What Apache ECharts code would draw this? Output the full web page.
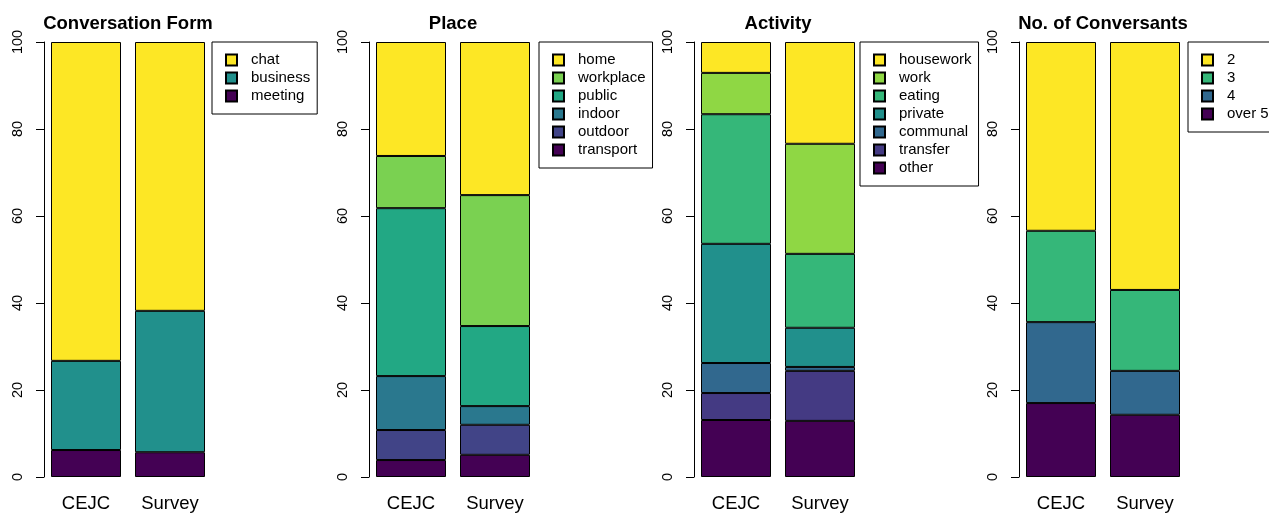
<!DOCTYPE html>
<html>
<head>
<meta charset="utf-8">
<script src="https://cdn.jsdelivr.net/npm/echarts@6/dist/echarts.min.js"></script>
<style>
  html, body { margin: 0; padding: 0; background: #fff; }
  #chart { width: 1269px; height: 513px; }
</style>
</head>
<body>
<div id="chart"></div>
<script>
// data (percent), legend order = top of the stack first
const categories = ['CEJC', 'Survey'];
const yTicks = [0, 20, 40, 60, 80, 100];

const titles = ['Conversation Form', 'Place', 'Activity', 'No. of Conversants'];

const formNames = ['chat', 'business', 'meeting'];
const formValues = [[73.3, 61.8], [20.5, 32.5], [6.2, 5.7]];
const formColors = ['#FDE725', '#21908C', '#440154'];

const placeNames = ['home', 'workplace', 'public', 'indoor', 'outdoor', 'transport'];
const placeValues = [[26.2, 35.2], [12.0, 30.1], [38.6, 18.4], [12.4, 4.3], [6.9, 6.9], [3.9, 5.1]];
const placeColors = ['#FDE725', '#7AD151', '#22A884', '#2A788E', '#414487', '#440154'];

const activityNames = ['housework', 'work', 'eating', 'private', 'communal', 'transfer', 'other'];
const activityValues = [[7.1, 23.4], [9.5, 25.3], [29.8, 17.0], [27.4, 9.0], [6.9, 0.9], [6.2, 11.5], [13.1, 12.9]];
const activityColors = ['#FDE725', '#8FD744', '#35B779', '#21908C', '#31688E', '#443A83', '#440154'];

const numNames = ['2', '3', '4', 'over 5'];
const numValues = [[43.4, 57.0], [21.0, 18.6], [18.6, 10.1], [17.0, 14.3]];
const numColors = ['#FDE725', '#35B779', '#31688E', '#440154'];

const panels = [
  { names: formNames, values: formValues, colors: formColors },
  { names: placeNames, values: placeValues, colors: placeColors },
  { names: activityNames, values: activityValues, colors: activityColors },
  { names: numNames, values: numValues, colors: numColors }
];

// layout
const font = '"Liberation Sans", Arial, Helvetica, sans-serif';
const gridLefts = [44, 369, 694, 1019];
const legendLefts = [212, 539, 860, 1188];
const bandW = 84;

const chart = echarts.init(document.getElementById('chart'), null, { renderer: 'canvas' });

const option = {
  animation: false,
  backgroundColor: '#fff',
  title: titles.map((t, i) => ({
    text: t,
    left: gridLefts[i] + bandW,
    top: 14,
    padding: 0,
    textAlign: 'center',
    textStyle: { fontFamily: font, fontSize: 18.5, fontWeight: 'bold', color: '#000' }
  })),
  legend: panels.map((p, i) => ({
    data: p.names,
    orient: 'vertical',
    left: legendLefts[i],
    top: 42,
    padding: [9, 7, 9, 13],
    itemWidth: 11,
    itemHeight: 11,
    itemGap: 0,
    icon: 'rect',
    borderColor: '#000',
    borderWidth: 1,
    borderRadius: 0,
    selectedMode: false,
    textStyle: {
      fontFamily: font, fontSize: 15, color: '#000',
      lineHeight: 18, padding: [0, 0, 0, 9]
    }
  })),
  grid: panels.map((p, i) => ({
    left: gridLefts[i], top: 42, width: bandW * 2, height: 435
  })),
  xAxis: panels.map((p, i) => ({
    type: 'category',
    gridIndex: i,
    data: categories,
    axisLine: { show: false },
    axisTick: { show: false },
    axisLabel: { fontFamily: font, fontSize: 18.5, color: '#000', margin: 17 }
  })),
  yAxis: panels.map((p, i) => ({
    type: 'value',
    gridIndex: i,
    min: yTicks[0],
    max: yTicks[yTicks.length - 1],
    interval: yTicks[1] - yTicks[0],
    splitLine: { show: false },
    axisLine: { show: true, lineStyle: { color: '#000', width: 1 } },
    axisTick: { show: true, length: 8, lineStyle: { color: '#000', width: 1 } },
    axisLabel: { rotate: 90, fontFamily: font, fontSize: 14.5, color: '#000', margin: 19 }
  })),
  series: []
};

panels.forEach((p, i) => {
  // bottom of the stack first
  for (let k = p.names.length - 1; k >= 0; k--) {
    option.series.push({
      name: p.names[k],
      type: 'bar',
      stack: 'panel' + i,
      xAxisIndex: i,
      yAxisIndex: i,
      barWidth: 70,
      data: p.values[k],
      itemStyle: { color: p.colors[k], borderColor: '#000', borderWidth: 1 },
      emphasis: { disabled: true }
    });
  }
});

chart.setOption(option);
</script>
</body>
</html>
